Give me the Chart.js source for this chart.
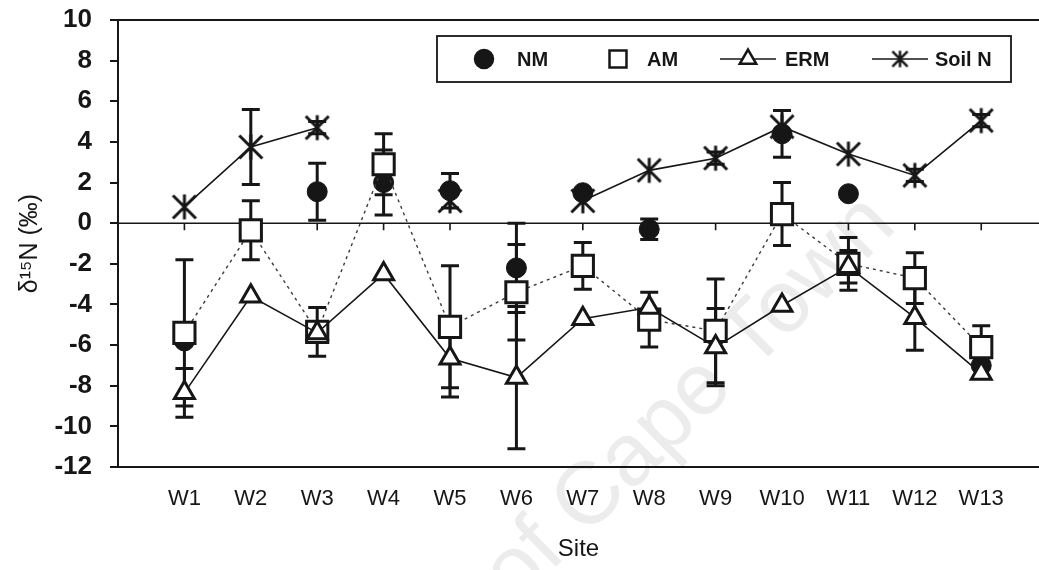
<!DOCTYPE html>
<html>
<head>
<meta charset="utf-8">
<title>δ15N by site</title>
<script src="https://cdn.jsdelivr.net/npm/chart.js@4.4.1/dist/chart.umd.min.js"></script>
<style>
  html, body { margin: 0; padding: 0; background: #fff; }
  #wrap { width: 1039px; height: 570px; }
</style>
</head>
<body>
<div id="wrap"><canvas id="chart" width="1039" height="570"></canvas></div>
<script>
// Sites and delta-15N means (per mil) with +/- error
const sites = ['W1', 'W2', 'W3', 'W4', 'W5', 'W6', 'W7', 'W8', 'W9', 'W10', 'W11', 'W12', 'W13'];

const nmVals   = [-5.8, null, 1.55, 2.0, 1.6, -2.2, 1.5, -0.3, null, 4.4, 1.45, null, -7.0];
const nmErr    = [0, 0, 1.4, 1.6, 0.85, 2.2, 0, 0.5, 0, 1.15, 0, 0, 0];

const amVals   = [-5.4, -0.35, -5.35, 2.9, -5.1, -3.4, -2.1, -4.75, -5.3, 0.45, -2.0, -2.7, -6.1];
const amErr    = [3.6, 1.45, 1.2, 1.5, 3.0, 2.35, 1.15, 1.35, 2.55, 1.55, 1.3, 1.25, 1.05];

const ermVals  = [-8.35, -3.6, -5.4, -2.5, -6.65, -7.6, -4.7, -4.15, -6.1, -4.05, -2.15, -4.65, -7.4];
const ermErr   = [1.2, 0, 0, 0, 1.9, 3.5, 0, 0, 1.9, 0, 0.8, 1.6, 0];

const soilVals = [0.8, 3.75, 4.7, null, 1.1, null, 1.1, 2.6, 3.2, 4.75, 3.4, 2.35, 5.05];
const soilErr  = [0, 1.85, 0.3, 0, 0, 0, 0, 0, 0.3, 0, 0, 0.3, 0.3];

const yTickValues = [10, 8, 6, 4, 2, 0, -2, -4, -6, -8, -10, -12];

const INK = '#161616';
const FONT = "'Liberation Sans', Arial, sans-serif";

// asterisk marker: vertical bar plus an X
function makeStar(size, lw) {
  const c = document.createElement('canvas');
  c.width = c.height = size;
  const g = c.getContext('2d');
  const m = size / 2, r = size / 2 - lw / 2;
  const d = r * 0.92;
  g.strokeStyle = INK;
  g.lineWidth = lw;
  g.beginPath();
  g.moveTo(m, m - r); g.lineTo(m, m + r);
  g.moveTo(m - d, m - d); g.lineTo(m + d, m + d);
  g.moveTo(m + d, m - d); g.lineTo(m - d, m + d);
  g.stroke();
  return c;
}
const starMark = makeStar(28, 3);
const starLegend = makeStar(19, 2.5);

const toPoints = vals => vals.map((v, i) => ({ x: i + 1, y: v }));

// vertical error bars with caps, drawn under the markers
const errorBars = {
  id: 'errorBars',
  beforeDatasetsDraw(chart) {
    const { ctx } = chart;
    const ys = chart.scales.y;
    chart.data.datasets.forEach((ds, i) => {
      const meta = chart.getDatasetMeta(i);
      meta.data.forEach((pt, j) => {
        const v = ds.data[j].y, e = ds.errors[j];
        if (v == null || !e) return;
        const top = ys.getPixelForValue(v + e);
        const bot = ys.getPixelForValue(v - e);
        ctx.save();
        ctx.strokeStyle = INK;
        ctx.lineWidth = 3;
        ctx.beginPath();
        ctx.moveTo(pt.x, top); ctx.lineTo(pt.x, bot);
        ctx.moveTo(pt.x - 9, top); ctx.lineTo(pt.x + 9, top);
        ctx.moveTo(pt.x - 9, bot); ctx.lineTo(pt.x + 9, bot);
        ctx.stroke();
        ctx.restore();
      });
    });
  }
};

// top frame line and the zero line with its little site ticks
const frame = {
  id: 'frame',
  beforeDatasetsDraw(chart) {
    const { ctx, chartArea: a } = chart;
    const xs = chart.scales.x, ys = chart.scales.y;
    const y0 = ys.getPixelForValue(0);
    ctx.save();
    ctx.strokeStyle = INK;
    ctx.lineWidth = 2;
    ctx.beginPath();
    ctx.moveTo(a.left, a.top); ctx.lineTo(a.right, a.top);
    ctx.stroke();
    ctx.lineWidth = 1.6;
    ctx.beginPath();
    ctx.moveTo(a.left, y0); ctx.lineTo(a.right, y0);
    sites.forEach((s, i) => {
      const x = xs.getPixelForValue(i + 1);
      ctx.moveTo(x, y0); ctx.lineTo(x, y0 + 7);
    });
    ctx.stroke();
    ctx.restore();
  }
};

// faint diagonal watermark behind everything
const watermark = {
  id: 'watermark',
  beforeDraw(chart) {
    const { ctx } = chart;
    ctx.save();
    ctx.translate(690, 400);
    ctx.rotate(-0.78);
    ctx.font = '88px ' + FONT;
    ctx.fillStyle = '#ececec';
    ctx.textAlign = 'center';
    ctx.textBaseline = 'middle';
    ctx.fillText('of Cape Town', 0, 0);
    ctx.restore();
  }
};

// drawPoint fills with whatever fillStyle is set, so pick it per style first
function legendMark(ctx, style, radius, x, y) {
  ctx.fillStyle = (style === 'rect' || style === 'triangle') ? '#fff' : INK;
  ctx.strokeStyle = INK;
  ctx.lineWidth = 2.5;
  Chart.helpers.drawPoint(ctx, { pointStyle: style, radius, rotation: 0, borderWidth: 2.5 }, x, y);
}

// boxed legend in the upper right of the plot
const boxLegend = {
  id: 'boxLegend',
  afterDatasetsDraw(chart, args, opts) {
    const { ctx } = chart;
    const { left, top, width, height, slots } = opts;
    const cy = top + height / 2;
    ctx.save();
    ctx.fillStyle = '#fff';
    ctx.fillRect(left, top, width, height);
    ctx.strokeStyle = INK;
    ctx.lineWidth = 1.8;
    ctx.strokeRect(left, top, width, height);
    chart.data.datasets.forEach((ds, i) => {
      const s = slots[i];
      if (ds.legendLine) {
        ctx.strokeStyle = INK;
        ctx.lineWidth = 1.6;
        ctx.beginPath();
        ctx.moveTo(left + s.mark - 28, cy);
        ctx.lineTo(left + s.mark + 28, cy);
        ctx.stroke();
      }
      legendMark(ctx, ds.legendStyle || ds.pointStyle, s.radius, left + s.mark, cy);
      ctx.font = 'bold 20px ' + FONT;
      ctx.textBaseline = 'middle';
      ctx.fillStyle = INK;
      ctx.fillText(ds.label, left + s.text, cy + 1);
    });
    ctx.restore();
  }
};

const datasets = [
  {
    label: 'NM', data: toPoints(nmVals), errors: nmErr,
    showLine: false, legendLine: false, pointStyle: 'circle', pointRadius: 10,
    pointBackgroundColor: INK, pointBorderColor: INK, pointBorderWidth: 1,
    order: 3
  },
  {
    label: 'AM', data: toPoints(amVals), errors: amErr, legendLine: false,
    borderColor: '#3a3a3a', borderWidth: 1.4, borderDash: [3, 4],
    pointStyle: 'rect', pointRadius: 15,
    pointBackgroundColor: '#fff', pointBorderColor: INK, pointBorderWidth: 3,
    order: 2
  },
  {
    label: 'ERM', data: toPoints(ermVals), errors: ermErr, legendLine: true,
    borderColor: INK, borderWidth: 1.6,
    pointStyle: 'triangle', pointRadius: 11.5,
    pointBackgroundColor: '#fff', pointBorderColor: INK, pointBorderWidth: 3,
    order: 1
  },
  {
    label: 'Soil N', data: toPoints(soilVals), errors: soilErr, legendLine: true,
    borderColor: INK, borderWidth: 1.6,
    pointStyle: starMark, legendStyle: starLegend, pointRadius: 14,
    order: 4
  }
];

new Chart(document.getElementById('chart'), {
  type: 'line',
  data: { datasets },
  plugins: [watermark, frame, errorBars, boxLegend],
  options: {
    responsive: false,
    devicePixelRatio: 1,
    animation: false,
    spanGaps: false,
    layout: { autoPadding: false, padding: { top: 20, right: 0, bottom: 0, left: 0 } },
    elements: { line: { tension: 0, fill: false } },
    plugins: {
      legend: { display: false },
      tooltip: { enabled: false },
      boxLegend: {
        left: 437, top: 36, width: 574, height: 46,
        slots: [
          { mark: 47, text: 80, radius: 9 },
          { mark: 181, text: 210, radius: 12 },
          { mark: 311, text: 348, radius: 9.5 },
          { mark: 463, text: 498, radius: 9 }
        ]
      }
    },
    scales: {
      x: {
        type: 'linear', min: 0, max: 13.87,
        afterBuildTicks: s => { s.ticks = sites.map((_, i) => ({ value: i + 1 })); },
        afterFit: s => { s.height = 103; s.paddingLeft = 0; s.paddingRight = 0; },
        ticks: {
          callback: v => sites[v - 1] || '',
          color: INK, autoSkip: false, maxRotation: 0, padding: 11,
          font: { family: FONT, size: 22 }
        },
        grid: { display: false },
        border: { display: true, color: INK, width: 2 },
        title: {
          display: true, text: 'Site', color: INK,
          font: { family: FONT, size: 24 }, padding: { top: 0, bottom: 6 }
        }
      },
      y: {
        min: -12, max: 10,
        afterBuildTicks: s => { s.ticks = yTickValues.map(v => ({ value: v })); },
        afterFit: s => { s.width = 118; s.paddingTop = 0; s.paddingBottom = 0; },
        ticks: { color: INK, padding: 18, font: { family: FONT, size: 26, weight: 'bold' } },
        grid: { drawOnChartArea: false, tickLength: 8, color: INK, lineWidth: 2 },
        border: { color: INK, width: 2 },
        title: {
          display: true, text: 'δ¹⁵N (‰)', color: INK,
          font: { family: FONT, size: 25 }, padding: { top: 15, bottom: 0 }
        }
      }
    }
  }
});
</script>
</body>
</html>
